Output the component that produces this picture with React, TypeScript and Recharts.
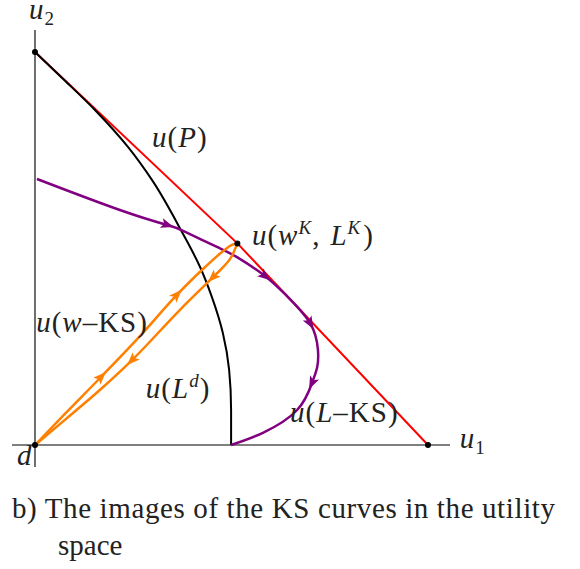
import React from "react";
import { LineChart, Line, XAxis, YAxis, ReferenceLine, ReferenceDot } from "recharts";

// utility space, d at the origin, frontier ends at (0,1) and (1,0)
const FRONTIER_P = [
  { x: 0, y: 1 },
  { x: 0.515, y: 0.513 },
  { x: 1, y: 0 },
];

// drawn from the u1 axis upwards
const CURVE_LD = [
  { x: 0.499, y: 0 },
  { x: 0.499, y: 0.089 },
  { x: 0.494, y: 0.191 },
  { x: 0.478, y: 0.285 },
  { x: 0.45, y: 0.377 },
  { x: 0.42, y: 0.453 },
  { x: 0.374, y: 0.542 },
  { x: 0.298, y: 0.674 },
  { x: 0.237, y: 0.758 },
  { x: 0.155, y: 0.85 },
  { x: 0.069, y: 0.934 },
  { x: 0, y: 1 },
];

const CURVE_L_KS = [
  { x: 0.005, y: 0.677 },
  { x: 0.216, y: 0.598 },
  { x: 0.336, y: 0.56 },
  { x: 0.377, y: 0.545 },
  { x: 0.463, y: 0.504 },
  { x: 0.514, y: 0.478 },
  { x: 0.585, y: 0.43 },
  { x: 0.641, y: 0.379 },
  { x: 0.7, y: 0.31 },
  { x: 0.72, y: 0.242 },
  { x: 0.718, y: 0.198 },
  { x: 0.705, y: 0.158 },
  { x: 0.667, y: 0.089 },
  { x: 0.58, y: 0.031 },
  { x: 0.499, y: 0 },
];

const CURVE_W_KS_UP = [
  { x: 0, y: 0 },
  { x: 0.076, y: 0.079 },
  { x: 0.168, y: 0.173 },
  { x: 0.267, y: 0.277 },
  { x: 0.361, y: 0.382 },
  { x: 0.433, y: 0.453 },
  { x: 0.476, y: 0.491 },
  { x: 0.501, y: 0.509 },
  { x: 0.515, y: 0.513 },
];

const CURVE_W_KS_DOWN = [
  { x: 0.515, y: 0.513 },
  { x: 0.501, y: 0.481 },
  { x: 0.476, y: 0.45 },
  { x: 0.453, y: 0.427 },
  { x: 0.369, y: 0.344 },
  { x: 0.247, y: 0.216 },
  { x: 0.165, y: 0.14 },
  { x: 0.076, y: 0.064 },
  { x: 0, y: 0 },
];

const ARROWS_L_KS = [2, 6, 8, 11];
const ARROWS_UP = [2, 4];
const ARROWS_DOWN = [3, 5];

const MARKED_POINTS = [
  { x: 0, y: 1 },
  { x: 0.515, y: 0.513 },
  { x: 1, y: 0 },
  { x: 0, y: 0 },
];

const FONT = "Liberation Serif";
const FS = 29;
const SUP = 19;

const it = (s: string) => <tspan fontStyle="italic">{s}</tspan>;

const LABELS = [
  { x: -0.015, y: 1.084, body: <>{it("u")}<tspan dy={6} fontSize={SUP}>2</tspan></> },
  { x: 1.081, y: -0.008, body: <>{it("u")}<tspan dy={6} fontSize={SUP}>1</tspan></> },
  { x: -0.046, y: -0.051, body: <>{it("d")}</> },
  { x: 0.298, y: 0.758, body: <>{it("u")}({it("P")})</> },
  {
    x: 0.552,
    y: 0.509,
    body: (
      <>
        {it("u")}({it("w")}
        <tspan dy={-11} fontSize={SUP} fontStyle="italic">K</tspan>
        <tspan dy={11}>,</tspan>
        <tspan dx={10} fontStyle="italic">L</tspan>
        <tspan dy={-11} fontSize={SUP} fontStyle="italic">K</tspan>
        <tspan dy={11} dx={2}>)</tspan>
      </>
    ),
  },
  { x: 0.003, y: 0.288, body: <>{it("u")}({it("w")}–KS)</> },
  {
    x: 0.282,
    y: 0.12,
    body: (
      <>
        {it("u")}({it("L")}
        <tspan dy={-11} fontSize={SUP} fontStyle="italic">d</tspan>
        <tspan dy={11}>)</tspan>
      </>
    ),
  },
  { x: 0.649, y: 0.059, body: <>{it("u")}({it("L")}–KS)</> },
];

type Pt = { x: number; y: number };

// arrowhead dot, turned along the curve (both axes share one px/unit scale)
const arrowDot = (pts: Pt[], at: number[], color: string) => (props: any) => {
  const { cx, cy, index } = props;
  if (!at.includes(index)) return <g key={index} />;
  const a = pts[Math.max(index - 1, 0)];
  const b = pts[Math.min(index + 1, pts.length - 1)];
  const ang = (Math.atan2(-(b.y - a.y), b.x - a.x) * 180) / Math.PI;
  return (
    <path
      key={index}
      d="M7,0 L-6,-5 L-3,0 L-6,5 Z"
      transform={`translate(${cx},${cy}) rotate(${ang})`}
      fill={color}
    />
  );
};

export default function App() {
  return (
    <div style={{ position: "absolute", left: 0, top: 0, width: 580, height: 569, background: "#fff" }}>
      <LineChart
        width={580}
        height={569}
        margin={{ top: 30, right: 130, bottom: 102, left: 12 }}
      >
        <XAxis type="number" dataKey="x" domain={[-0.0585, 1.056]} hide allowDataOverflow />
        <YAxis type="number" dataKey="y" domain={[-0.056, 1.056]} hide allowDataOverflow />
        <ReferenceLine x={0} stroke="#222" strokeWidth={1.3} />
        <ReferenceLine y={0} stroke="#555" strokeWidth={1.5} />

        <Line data={FRONTIER_P} dataKey="y" type="linear" stroke="#ff0000" strokeWidth={2} dot={false} activeDot={false} isAnimationActive={false} />
        <Line data={CURVE_LD} dataKey="y" type="monotoneY" stroke="#000" strokeWidth={2} dot={false} activeDot={false} isAnimationActive={false} />
        <Line
          data={CURVE_L_KS}
          dataKey="y"
          type="natural"
          stroke="#800080"
          strokeWidth={2.5}
          dot={arrowDot(CURVE_L_KS, ARROWS_L_KS, "#800080")}
          activeDot={false}
          isAnimationActive={false}
        />
        <Line
          data={CURVE_W_KS_UP}
          dataKey="y"
          type="monotoneX"
          stroke="#ff8000"
          strokeWidth={2.5}
          dot={arrowDot(CURVE_W_KS_UP, ARROWS_UP, "#ff8000")}
          activeDot={false}
          isAnimationActive={false}
        />
        <Line
          data={CURVE_W_KS_DOWN}
          dataKey="y"
          type="monotoneX"
          stroke="#ff8000"
          strokeWidth={2.5}
          dot={arrowDot(CURVE_W_KS_DOWN, ARROWS_DOWN, "#ff8000")}
          activeDot={false}
          isAnimationActive={false}
        />

        {MARKED_POINTS.map((p, i) => (
          <ReferenceDot key={"m" + i} x={p.x} y={p.y} r={3} fill="#000" stroke="none" ifOverflow="visible" />
        ))}

        {LABELS.map((l, i) => (
          <ReferenceDot
            key={"l" + i}
            x={l.x}
            y={l.y}
            ifOverflow="visible"
            shape={(p: any) => (
              <text x={p.cx} y={p.cy} style={{ fontFamily: FONT, letterSpacing: 1 }} fontSize={FS} fill="#222">
                {l.body}
              </text>
            )}
          />
        ))}
      </LineChart>
      <svg width={580} height={569} style={{ position: "absolute", left: 0, top: 0, pointerEvents: "none" }}>
        <text x={12} y={518} style={{ fontFamily: FONT }} fontSize={29} fill="#222" textLength={543} lengthAdjust="spacing">
          b) The images of the KS curves in the utility
        </text>
        <text x={58} y={555} style={{ fontFamily: FONT }} fontSize={29} fill="#222">
          space
        </text>
      </svg>
    </div>
  );
}
